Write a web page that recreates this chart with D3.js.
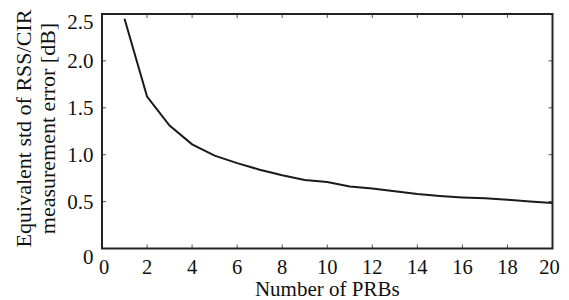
<!DOCTYPE html>
<html>
<head>
<meta charset="utf-8">
<script src="https://cdn.jsdelivr.net/npm/d3@7"></script>
<style>
  body { margin: 0; background: #fff; }
  text { font-family: "Liberation Serif", "Times New Roman", serif; fill: #111; }
</style>
</head>
<body>
<div id="chart"></div>
<script>
"use strict"

// number of PRBs and the matching std values
var prbs = [1, 2, 3, 4, 5, 6, 7, 8, 9, 10, 11, 12, 13, 14, 15, 16, 17, 18, 19, 20];
var stdValues = [2.45, 1.62, 1.31, 1.11, 0.99, 0.91, 0.84, 0.78, 0.73, 0.71,
                 0.66, 0.64, 0.61, 0.58, 0.56, 0.545, 0.535, 0.52, 0.50, 0.485];
var xTicks = [0, 2, 4, 6, 8, 10, 12, 14, 16, 18, 20];
var yTicks = [0, 0.5, 1.0, 1.5, 2.0, 2.5];
var yTickLabels = ["0", "0.5", "1.0", "1.5", "2.0", "2.5"];

var width = 569,
    height = 300,
    plotLeft = 102, plotRight = 552.5, plotTop = 14, plotBottom = 248.5;

var svg = d3.select("#chart").append("svg")
    .attr("width", width)
    .attr("height", height);

var x = d3.scaleLinear().domain([0, 20]).range([plotLeft, plotRight]);
var y = d3.scaleLinear().domain([0, 2.5]).range([plotBottom, plotTop]);

// inward ticks on all four sides
var tickLen = 4;
var inner = svg.append("g").attr("stroke", "#555").attr("stroke-width", 1);
xTicks.slice(1, -1).forEach(function(t){
    inner.append("line").attr("x1", x(t)).attr("x2", x(t)).attr("y1", plotBottom).attr("y2", plotBottom - tickLen);
    inner.append("line").attr("x1", x(t)).attr("x2", x(t)).attr("y1", plotTop).attr("y2", plotTop + tickLen);
});
yTicks.slice(1, -1).forEach(function(t){
    inner.append("line").attr("x1", plotLeft).attr("x2", plotLeft + tickLen).attr("y1", y(t)).attr("y2", y(t));
    inner.append("line").attr("x1", plotRight).attr("x2", plotRight - tickLen).attr("y1", y(t)).attr("y2", y(t));
});

// the curve
var line = d3.line()
    .x(function(d, i){ return x(prbs[i]); })
    .y(function(d){ return y(d); });

svg.append("path")
    .datum(stdValues)
    .attr("d", line)
    .attr("fill", "none")
    .attr("stroke", "#1a1a1a")
    .attr("stroke-width", 2);

// frame
svg.append("rect")
    .attr("x", plotLeft).attr("y", plotTop)
    .attr("width", plotRight - plotLeft).attr("height", plotBottom - plotTop)
    .attr("fill", "none")
    .attr("stroke", "#222")
    .attr("stroke-width", 2);

// x tick labels
svg.append("g").selectAll("text")
    .data(xTicks)
    .enter().append("text")
    .attr("x", function(d){ return x(d) + (d === 0 ? 2 : d === 20 ? -3 : 0); })
    .attr("y", 274)
    .attr("text-anchor", "middle")
    .style("font-size", "20.5px")
    .text(function(d){ return d; });

// y tick labels (top and bottom ones pushed down like the original)
svg.append("g").selectAll("text")
    .data(yTicks)
    .enter().append("text")
    .attr("x", 93.5)
    .attr("y", function(d){
        var off = 7;
        if (d === 2.5) off = 15;
        if (d === 0) off = 15;
        return y(d) + off;
    })
    .attr("text-anchor", "end")
    .style("font-size", "21px")
    .text(function(d, i){ return yTickLabels[i]; });

// axis titles
svg.append("text")
    .attr("x", (plotLeft + plotRight) / 2)
    .attr("y", 295.5)
    .attr("text-anchor", "middle")
    .style("font-size", "21px")
    .text("Number of PRBs");

svg.append("text")
    .attr("transform", "translate(31,128.5) rotate(-90)")
    .attr("text-anchor", "middle")
    .style("font-size", "22px")
    .text("Equivalent std of RSS/CIR");

svg.append("text")
    .attr("transform", "translate(55,128.5) rotate(-90)")
    .attr("text-anchor", "middle")
    .style("font-size", "22px")
    .text("measurement error [dB]");
</script>
</body>
</html>
